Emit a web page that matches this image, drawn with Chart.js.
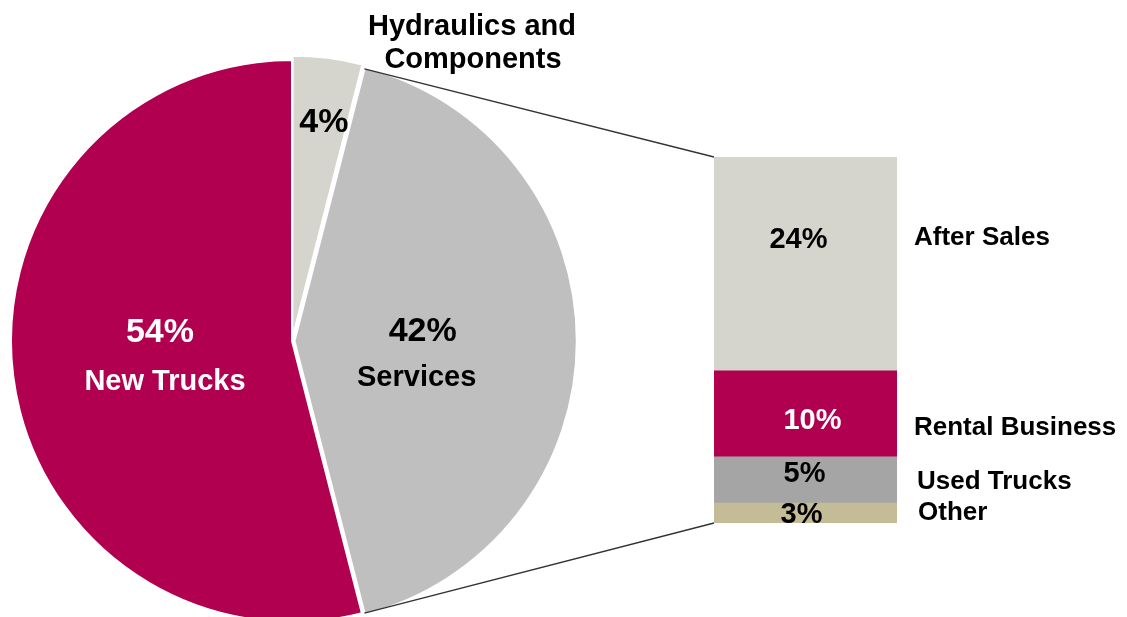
<!DOCTYPE html>
<html>
<head>
<meta charset="utf-8">
<script src="https://cdn.jsdelivr.net/npm/chart.js@4"></script>
<style>
  html, body { margin: 0; padding: 0; background: #fff; }
  #wrap { position: relative; width: 1127px; height: 617px; }
  #wrap canvas { position: absolute; left: 0; top: 0; }
</style>
</head>
<body>
<div id="wrap">
  <canvas id="pie" width="1127" height="617"></canvas>
  <canvas id="bar" width="1127" height="617"></canvas>
</div>
<script>
// pie: revenue split
const pieLabels = ['Hydraulics and Components', 'Services', 'New Trucks'];
const pieValues = [4, 42, 54];
const pieColors = ['#d5d5cd', '#bfbfbf', '#b0004f'];

// bar of pie: breakdown of services (top to bottom)
const barLabels = ['After Sales', 'Rental Business', 'Used Trucks', 'Other'];
const barValues = [24.6, 9.9, 5.3, 2.3];
const barPct = ['24%', '10%', '5%', '3%'];
const barColors = ['#d5d5cd', '#b0004f', '#a5a5a5', '#c4bb97'];

const FONT = '"Liberation Sans", Arial, sans-serif';

function drawText(ctx, text, x, y, size, color, align) {
  ctx.font = 'bold ' + size + 'px ' + FONT;
  ctx.fillStyle = color;
  ctx.textAlign = align || 'center';
  ctx.textBaseline = 'middle';
  ctx.fillText(text, x, y);
}

// labels inside / around the pie slices
const pieTextPlugin = {
  id: 'pieText',
  afterDatasetsDraw(chart) {
    const ctx = chart.ctx;
    const arcs = chart.getDatasetMeta(0).data;
    const total = pieValues.reduce((a, b) => a + b, 0);
    const place = [
      { f: 0.79, dx: 4, pctDy: 2 },
      { f: 0.465, dx: 0, pctDy: -9, catDx: -6, catDy: 37 },
      { f: 0.47, dx: -1, pctDy: -25, catDx: 5, catDy: 24 }
    ];
    const white = [false, false, true];
    ctx.save();
    arcs.forEach((el, i) => {
      const mid = (el.startAngle + el.endAngle) / 2;
      const R = el.outerRadius;
      const px = el.x + Math.cos(mid) * R * place[i].f + place[i].dx;
      const py = el.y + Math.sin(mid) * R * place[i].f;
      const color = white[i] ? '#ffffff' : '#000000';
      const pct = Math.round(pieValues[i] / total * 100) + '%';
      drawText(ctx, pct, px, py + place[i].pctDy, 34, color);
      if (place[i].catDy !== undefined) {
        drawText(ctx, pieLabels[i], px + place[i].catDx, py + place[i].catDy, 29, color);
      }
    });
    // outside label for the small slice
    const el0 = arcs[0];
    const top = el0.y - el0.outerRadius;
    drawText(ctx, 'Hydraulics and', el0.x + 180, top - 33, 29, '#000');
    drawText(ctx, 'Components', el0.x + 181, top, 29, '#000');
    ctx.restore();
  }
};

const pieChart = new Chart(document.getElementById('pie'), {
  type: 'pie',
  data: {
    labels: pieLabels,
    datasets: [{
      data: pieValues,
      backgroundColor: pieColors,
      borderColor: '#ffffff',
      borderWidth: 2,
      offset: [10, 10, 0]
    }]
  },
  options: {
    responsive: false,
    animation: false,
    radius: 281,
    layout: { padding: { left: 0, right: 543, top: 65, bottom: 0 } },
    plugins: {
      legend: { display: false },
      tooltip: { enabled: false }
    }
  },
  plugins: [pieTextPlugin]
});

// connector lines + bar labels
const barTextPlugin = {
  id: 'barText',
  afterDatasetsDraw(chart) {
    const ctx = chart.ctx;
    const n = barValues.length;
    const pctDy = [-24, 7, -6, 2];
    const pctDx = [-7, 7, -1, -4];
    const catDy = [-26, 14, 2, 0];
    const catDx = [17, 17, 20, 21];
    ctx.save();
    for (let i = 0; i < n; i++) {
      const el = chart.getDatasetMeta(n - 1 - i).data[0];
      const cy = (el.y + el.base) / 2;
      const color = i === 1 ? '#ffffff' : '#000000';
      drawText(ctx, barPct[i], el.x + pctDx[i], cy + pctDy[i], 29, color);
      drawText(ctx, barLabels[i], el.x + el.width / 2 + catDx[i], cy + catDy[i], 26, '#000', 'left');
    }

    // lines from the services slice to the bar
    const arc = pieChart.getDatasetMeta(0).data[1];
    const half = (arc.startAngle + arc.endAngle) / 2;
    const off = (arc.options.offset || 0) / 4;
    const cx = arc.x + Math.cos(half) * off;
    const cy = arc.y + Math.sin(half) * off;
    const R = arc.outerRadius;
    const topEl = chart.getDatasetMeta(n - 1).data[0];
    const botEl = chart.getDatasetMeta(0).data[0];
    ctx.strokeStyle = '#333333';
    ctx.lineWidth = 1.3;
    ctx.beginPath();
    ctx.moveTo(cx + Math.cos(arc.startAngle) * R, cy + Math.sin(arc.startAngle) * R);
    ctx.lineTo(topEl.x - topEl.width / 2, topEl.y);
    ctx.moveTo(cx + Math.cos(arc.endAngle) * R, cy + Math.sin(arc.endAngle) * R);
    ctx.lineTo(botEl.x - botEl.width / 2, botEl.base);
    ctx.stroke();
    ctx.restore();
  }
};

const barSum = barValues.reduce((a, b) => a + b, 0);

new Chart(document.getElementById('bar'), {
  type: 'bar',
  data: {
    labels: [''],
    datasets: barValues.map((v, i) => ({
      label: barLabels[i],
      data: [v],
      backgroundColor: barColors[i],
      borderWidth: 0,
      barPercentage: 1,
      categoryPercentage: 1
    })).reverse()
  },
  options: {
    responsive: false,
    animation: false,
    layout: { padding: { left: 714, right: 230, top: 157, bottom: 94 } },
    scales: {
      x: { stacked: true, display: false },
      y: { stacked: true, display: false, min: 0, max: barSum }
    },
    plugins: {
      legend: { display: false },
      tooltip: { enabled: false }
    }
  },
  plugins: [barTextPlugin]
});
</script>
</body>
</html>
